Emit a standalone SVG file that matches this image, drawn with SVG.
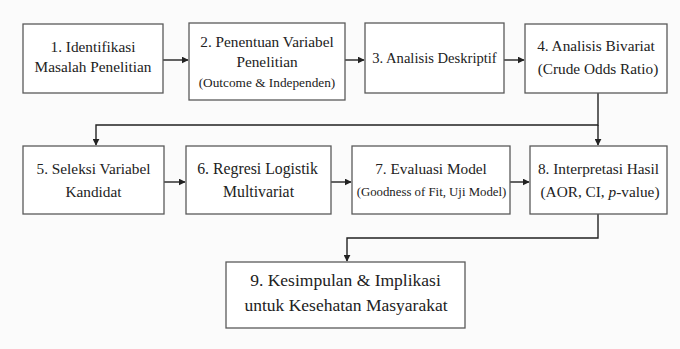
<svg xmlns="http://www.w3.org/2000/svg" width="680" height="349" viewBox="0 0 680 349">
  <style>
    .box { fill: #ffffff; stroke: #5a5a5a; stroke-width: 1.3; }
    .t { font-family: "Liberation Serif", "DejaVu Serif", serif; font-size: 15.3px; fill: #222; text-anchor: middle; }
    .s { font-size: 13.3px; }
    .line { fill: none; stroke: #222; stroke-width: 1.4; }
  </style>
  <defs>
    <marker id="arrow" viewBox="0 0 10 10" refX="9" refY="5" markerWidth="7" markerHeight="7" markerUnits="userSpaceOnUse" orient="auto">
      <path d="M0,0 L10,5 L0,10 z" fill="#222"/>
    </marker>
  </defs>
  <rect width="680" height="349" fill="#fbfbfb"/>

  <g id="connectors">
    <path class="line" d="M163,60 L188,60" marker-end="url(#arrow)"/>
    <path class="line" d="M345,60 L364,60" marker-end="url(#arrow)"/>
    <path class="line" d="M504,60 L524,60" marker-end="url(#arrow)"/>
    <path class="line" d="M598,93 L598,125 L96,125 L96,145" marker-end="url(#arrow)"/>
    <path class="line" d="M598,125 L598,145" marker-end="url(#arrow)"/>
    <path class="line" d="M164,182 L185,182" marker-end="url(#arrow)"/>
    <path class="line" d="M331,182 L351,182" marker-end="url(#arrow)"/>
    <path class="line" d="M510,182 L529,182" marker-end="url(#arrow)"/>
    <path class="line" d="M598,214 L598,238 L347,238 L347,261" marker-end="url(#arrow)"/>
  </g>

  <g id="node1">
    <rect class="box" x="23" y="24" width="140" height="69"/>
    <text class="t" x="93" y="52">1. Identifikasi</text>
    <text class="t" x="93" y="72">Masalah Penelitian</text>
  </g>
  <g id="node2">
    <rect class="box" x="189" y="23" width="156" height="77"/>
    <text class="t" x="267" y="47">2. Penentuan Variabel</text>
    <text class="t" x="267" y="67">Penelitian</text>
    <text class="t s" x="267" y="87">(Outcome &amp; Independen)</text>
  </g>
  <g id="node3">
    <rect class="box" x="365" y="23" width="139" height="70"/>
    <text class="t" x="434.5" y="63" style="font-size:14.6px">3. Analisis Deskriptif</text>
  </g>
  <g id="node4">
    <rect class="box" x="525" y="24" width="142" height="69"/>
    <text class="t" x="596" y="51">4. Analisis Bivariat</text>
    <text class="t" x="598" y="74">(Crude Odds Ratio)</text>
  </g>
  <g id="node5">
    <rect class="box" x="23" y="146" width="141" height="68"/>
    <text class="t" x="93.5" y="174">5. Seleksi Variabel</text>
    <text class="t" x="93.5" y="197">Kandidat</text>
  </g>
  <g id="node6">
    <rect class="box" x="186" y="146" width="145" height="68"/>
    <text class="t" x="257.5" y="174" style="font-size:15.8px">6. Regresi Logistik</text>
    <text class="t" x="258.5" y="197" style="font-size:15.8px">Multivariat</text>
  </g>
  <g id="node7">
    <rect class="box" x="352" y="146" width="158" height="68"/>
    <text class="t" x="431" y="174">7. Evaluasi Model</text>
    <text class="t s" x="431.5" y="196" style="font-size:12.8px">(Goodness of Fit, Uji Model)</text>
  </g>
  <g id="node8">
    <rect class="box" x="530" y="146" width="137" height="68"/>
    <text class="t" x="598.5" y="174">8. Interpretasi Hasil</text>
    <text class="t" x="600" y="197">(AOR, CI, <tspan font-style="italic">p</tspan>-value)</text>
  </g>
  <g id="node9">
    <rect class="box" x="226" y="262" width="239" height="66"/>
    <text class="t" x="345.5" y="286" style="font-size:17.5px">9. Kesimpulan &amp; Implikasi</text>
    <text class="t" x="346" y="311" style="font-size:17.5px">untuk Kesehatan Masyarakat</text>
  </g>
</svg>
